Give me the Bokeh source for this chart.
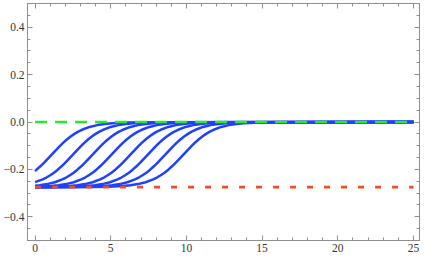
from bokeh.plotting import figure
from bokeh.models import Range1d, FixedTicker, LinearAxis
from bokeh.embed import file_html
from bokeh.resources import INLINE

# ---- data ----
# shape of one blue transition curve: y at offsets t from its midpoint
profile_t = [-6, -5, -4, -3.5, -3, -2.5, -2, -1.75, -1.5, -1.25, -1, -0.75, -0.5, -0.25,
             0, 0.25, 0.5, 0.75, 1, 1.25, 1.5, 1.75, 2, 2.5, 3, 3.5, 4, 5, 6]
profile_y = [-0.2743, -0.2732, -0.2701, -0.2669, -0.2620, -0.2541, -0.2422, -0.2343, -0.2248,
             -0.2138, -0.2011, -0.1868, -0.1712, -0.1546, -0.1375, -0.1204, -0.1038, -0.0882,
             -0.0739, -0.0612, -0.0502, -0.0407, -0.0328, -0.0209, -0.0131, -0.0081, -0.0049,
             -0.0018, -0.0007]
curve_mid = [1.1, 2.5, 3.8, 5.05, 6.3, 7.45, 8.6, 9.8]
curve_start = [-0.207, -0.254, -0.269, -0.273, -0.2745, -0.275, -0.275, -0.275]
x_end = 25
green_y = 0.0
red_y = -0.275

x_tick_values = [0, 5, 10, 15, 20, 25]
x_tick_labels = ["0", "5", "10", "15", "20", "25"]
y_tick_values = [-0.4, -0.2, 0, 0.2, 0.4]
y_tick_labels = ["\u22120.4", "\u22120.2", "0.0", "0.2", "0.4"]

FRAME = "#8f8f8f"
LABEL = "#333333"
FONT = "Times New Roman"

p = figure(width=422, height=257, output_backend="svg", toolbar_location=None,
           x_range=Range1d(-0.5, 25.4), y_range=Range1d(-0.5, 0.5),
           min_border_left=26, min_border_right=3, min_border_top=3, min_border_bottom=17,
           x_axis_type=None, y_axis_type=None)
p.grid.visible = False
p.outline_line_color = FRAME
p.background_fill_color = "white"
p.border_fill_color = "white"

x_minor = list(range(0, 26))
y_minor = [round(-0.5 + 0.05 * i, 2) for i in range(21)]
xt = FixedTicker(ticks=x_tick_values, minor_ticks=x_minor)
yt = FixedTicker(ticks=y_tick_values, minor_ticks=y_minor)


def style(ax):
    ax.axis_line_color = FRAME
    ax.major_tick_line_color = FRAME
    ax.minor_tick_line_color = FRAME
    ax.major_tick_in = 5
    ax.major_tick_out = 0
    ax.minor_tick_in = 3
    ax.minor_tick_out = 0
    ax.major_label_text_font = FONT
    ax.major_label_text_color = LABEL
    ax.major_label_text_font_size = "11.5px"
    ax.major_label_standoff = 3


bottom = LinearAxis(ticker=xt, major_label_overrides=dict(zip(x_tick_values, x_tick_labels)))
left = LinearAxis(ticker=yt, major_label_overrides=dict(zip(y_tick_values, y_tick_labels)))
top = LinearAxis(ticker=xt, major_label_overrides={v: "" for v in x_tick_values})
right = LinearAxis(ticker=yt, major_label_overrides={v: "" for v in y_tick_values})
for ax in (bottom, left, top, right):
    style(ax)
top.major_label_standoff = 0
right.major_label_standoff = 0
p.add_layout(bottom, "below")
p.add_layout(left, "left")
p.add_layout(top, "above")
p.add_layout(right, "right")

for m, s in zip(curve_mid, curve_start):
    xs = [0]
    ys = [s]
    for t, y in zip(profile_t, profile_y):
        if m + t > 0:
            xs.append(m + t)
            ys.append(y)
    xs.append(x_end)
    ys.append(0.0)
    p.line(xs, ys, line_color="#2040ff", line_width=2.5, line_join="round")

p.line([0, x_end], [green_y, green_y], line_color="#2ee62e", line_width=2.6, line_dash="12 8")
p.line([0, x_end], [red_y, red_y], line_color="#f04a2a", line_width=2.8, line_dash="6 11")

open("out.html", "w").write(file_html(p, INLINE))
